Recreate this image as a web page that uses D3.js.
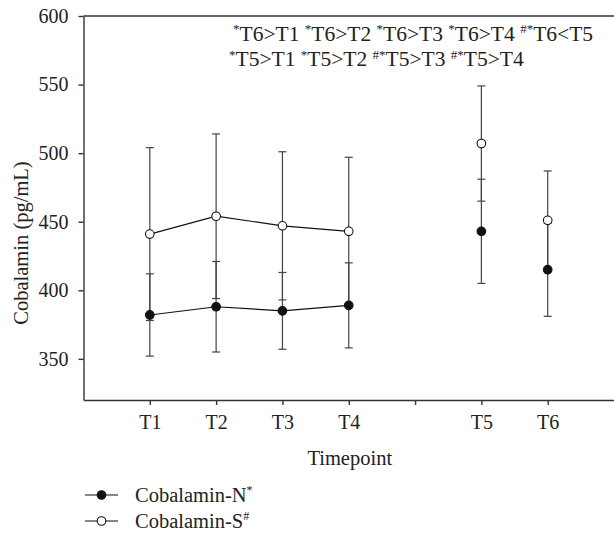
<!DOCTYPE html>
<html><head><meta charset="utf-8">
<script src="https://cdn.jsdelivr.net/npm/d3@7/dist/d3.min.js"></script>
<style>body{margin:0;background:#fff}svg{display:block}text{font-family:"Liberation Serif","Times New Roman",serif;fill:#222}</style>
</head><body><svg id="c" width="614" height="536"></svg>
<script>
const categories = ["T1","T2","T3","T4","T5","T6"];
const slots = [1,2,3,4,6,7];
const tickSlots = [1,2,3,4,5,6,7];
const tickLabels = ["T1","T2","T3","T4","","T5","T6"];
const nMean = [382, 388, 385, 389, 443, 415];
const nErr  = [30, 33, 28, 31, 38, 34];
const sMean = [441, 454, 447, 443, 507, 451];
const sErr  = [63, 60, 54, 54, 42, 36];
const connected = 4; // first four timepoints joined by lines
const yTicks = [350,400,450,500,550,600];
const note1 = [["*","T6>T1 "],["*","T6>T2 "],["*","T6>T3 "],["*","T6>T4 "],["#*","T6<T5"]];
const note2 = [["*","T5>T1 "],["*","T5>T2 "],["#*","T5>T3 "],["#*","T5>T4"]];

const svg = d3.select("#c");
const x = d3.scaleLinear().domain([0,8]).range([83.5,614]);
const y = d3.scaleLinear().domain([320,600]).range([400,16]);

// axes
const yAx = svg.append("g").attr("transform","translate(83.5,0)")
  .call(d3.axisLeft(y).tickValues(yTicks).tickSize(5).tickPadding(10).tickSizeOuter(0));
const xAx = svg.append("g").attr("transform","translate(0,400)")
  .call(d3.axisBottom(x).tickValues(tickSlots).tickFormat((d,i)=>tickLabels[i]).tickSize(5).tickPadding(10).tickSizeOuter(0));
[yAx,xAx].forEach(g=>{
  g.attr("font-family",null);
  g.selectAll("path,line").attr("stroke","#333").attr("stroke-width",1.4);
  g.selectAll("text").style("font-size","20px").attr("fill","#222");
});
svg.append("line").attr("x1",x(0)).attr("x2",x(8)).attr("y1",y(600)).attr("y2",y(600))
  .attr("stroke","#333").attr("stroke-width",1.4);

// titles
svg.append("text").attr("transform",`translate(28,243) rotate(-90)`)
  .attr("text-anchor","middle").style("font-size","20.5px").text("Cobalamin (pg/mL)");
svg.append("text").attr("x",x(4)+1).attr("y",465).attr("text-anchor","middle")
  .style("font-size","20.5px").text("Timepoint");

// error bars
function bars(mean, err){
  const g = svg.append("g").attr("stroke","#444").attr("stroke-width",1.2);
  mean.forEach((m,i)=>{
    const cx = x(slots[i]);
    g.append("line").attr("x1",cx).attr("x2",cx).attr("y1",y(m-err[i])).attr("y2",y(m+err[i]));
    [m-err[i], m+err[i]].forEach(v=>g.append("line").attr("x1",cx-4).attr("x2",cx+4).attr("y1",y(v)).attr("y2",y(v)));
  });
}
bars(sMean,sErr); bars(nMean,nErr);

const line = d3.line().x((d,i)=>x(slots[i])).y(d=>y(d));
[sMean,nMean].forEach(m=>{
  svg.append("path").attr("d",line(m.slice(0,connected))).attr("fill","none").attr("stroke","#111").attr("stroke-width",1.2);
});
[[sMean,"#fff"],[nMean,"#111"]].forEach(([m,fill])=>{
  svg.append("g").selectAll("circle").data(m).join("circle")
    .attr("cx",(d,i)=>x(slots[i])).attr("cy",d=>y(d)).attr("r",4.3)
    .attr("fill",fill).attr("stroke","#111").attr("stroke-width",1.1);
});

// annotations
function note(parts, xx, yy){
  const t = svg.append("text").attr("x",xx).attr("y",yy).style("font-size","21.5px");
  parts.forEach(([sup,txt])=>{
    t.append("tspan").attr("dy",-7.5).style("font-size","13px").text(sup);
    t.append("tspan").attr("dy",7.5).text(txt);
  });
}
note(note1, 233, 40.5);
note(note2, 229, 66);

// legend
const leg = [["Cobalamin-N","*","#111"],["Cobalamin-S","#","#fff"]];
leg.forEach(([name,sup,fill],i)=>{
  const ly = 495 + i*26;
  svg.append("line").attr("x1",85).attr("x2",118).attr("y1",ly).attr("y2",ly).attr("stroke","#111").attr("stroke-width",1.2);
  svg.append("circle").attr("cx",101.5).attr("cy",ly).attr("r",4.3).attr("fill",fill).attr("stroke","#111").attr("stroke-width",1.1);
  const t = svg.append("text").attr("x",135).attr("y",ly+7).style("font-size","20.5px");
  t.append("tspan").text(name);
  t.append("tspan").attr("dy",-8).style("font-size","12px").text(sup);
});
</script></body></html>
